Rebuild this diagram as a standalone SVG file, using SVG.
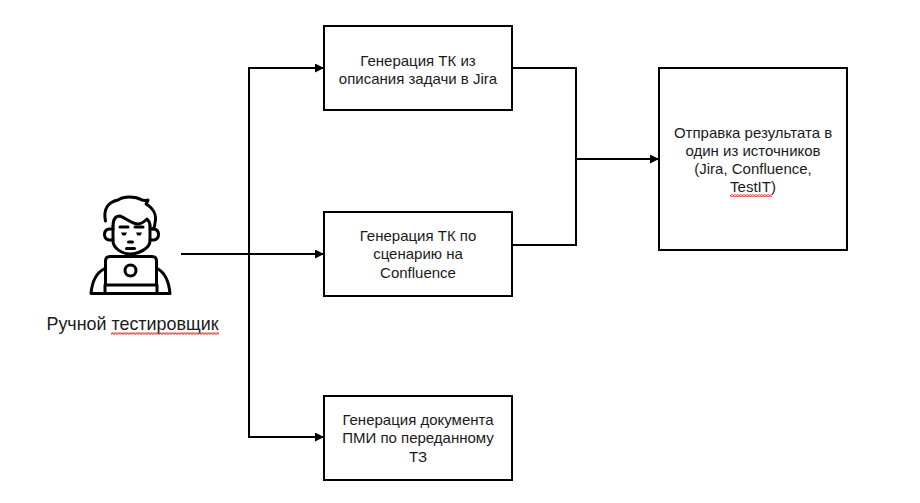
<svg xmlns="http://www.w3.org/2000/svg" width="920" height="503" viewBox="0 0 920 503">
<style>
.box{fill:#fff;stroke:#000;stroke-width:2}
.t{font-family:"Liberation Sans",Arial,sans-serif;font-size:15px;fill:#1a1a1a;text-anchor:middle}
.c{fill:none;stroke:#000;stroke-width:2}
.i{fill:none;stroke:#000;stroke-width:3;stroke-linejoin:round;stroke-linecap:round}
.sq{fill:url(#w)}
</style>
<defs>
<marker id="a" markerUnits="userSpaceOnUse" markerWidth="9" markerHeight="9" refX="9" refY="4.500" orient="auto"><path d="M0 0L9 4.500L0 9z" fill="#000"/></marker>
<pattern id="w" patternUnits="userSpaceOnUse" width="3" height="2.500"><path d="M0 2L1.500 .5L3 2" fill="none" stroke="#e0302a" stroke-width="1.100"/></pattern>
</defs>
<rect width="920" height="503" fill="#fff"/>
<g id="connectors">
<path class="c" d="M181 254H324" marker-end="url(#a)"/>
<path class="c" d="M324 68H249V437H324" marker-end="url(#a)"/>
<path class="c" d="M249 68H324" marker-end="url(#a)"/>
<path class="c" d="M512 68H576V245H512"/>
<path class="c" d="M576 159H659" marker-end="url(#a)"/>
</g>
<g id="node-jira"><rect class="box" x="324" y="26" width="188" height="84"/><text class="t" x="418" y="65.500">Генерация ТК из</text><text class="t" x="418" y="83.500">описания задачи в Jira</text></g>
<g id="node-confluence"><rect class="box" x="324" y="212" width="188" height="84"/><text class="t" x="418" y="241">Генерация ТК по</text><text class="t" x="418" y="259">сценарию на</text><text class="t" x="418" y="278">Confluence</text></g>
<g id="node-pmi"><rect class="box" x="324" y="396" width="188" height="84"/><text class="t" x="418" y="425">Генерация документа</text><text class="t" x="418" y="443">ПМИ по переданному</text><text class="t" x="418" y="462">ТЗ</text></g>
<g id="node-result"><rect class="box" x="659" y="68" width="188" height="182"/><text class="t" x="753" y="138">Отправка результата в</text><text class="t" x="753" y="156">один из источников</text><text class="t" x="753" y="174">(Jira, Confluence,</text><text class="t" x="753" y="192">TestIT)</text><rect class="sq" x="730" y="194" width="42" height="3"/></g>
<g id="node-tester">
<path class="i" d="M105.500 221C103 209 108 202 118 200C124 196 135 196 142 200C145 201 147 200 148 200C147 202 147 203 146 204C153 208 157 215 155 223C155 226 154 228 153 229"/>
<path class="i" d="M113 226C113 220 115 216 120 216C126 218 132 224 138 224C142 224 145 221 147 219C149 221 150 223 150 226"/>
<path class="i" d="M113 226V241C113 248 122 254 130 254C139 254 150 248 150 241V226"/>
<path class="i" d="M113 229H109C103 230 103 239 109 240H113M150 229H154C160 230 160 239 154 240H150"/>
<path class="i" d="M120 227H128M135 227H143"/>
<path d="M121 232.500H127L125.500 235.500H122.500zM136 232.500H142L140.500 235.500H137.500z" fill="#000"/>
<path class="i" d="M128.500 242H132.500M126.500 248.500H134.500"/>
<path class="i" d="M105.500 285V261C105.500 258 107 256.500 110 256.500H152C155 256.500 156.500 258 156.500 261V285"/>
<path class="i" d="M105 285H157V293M105 285V293"/>
<circle class="i" cx="130.500" cy="270.500" r="5.500"/>
<path class="i" d="M104 269C96 273 92 283 91 293.500H170C169 283 165 273 158 269"/>
</g>
<g id="label-tester"><text x="132.500" y="330" font-family="'Liberation Sans',Arial,sans-serif" font-size="17.900" fill="#1a1a1a" text-anchor="middle">Ручной тестировщик</text><rect class="sq" x="111" y="332" width="108" height="3"/></g>
</svg>
